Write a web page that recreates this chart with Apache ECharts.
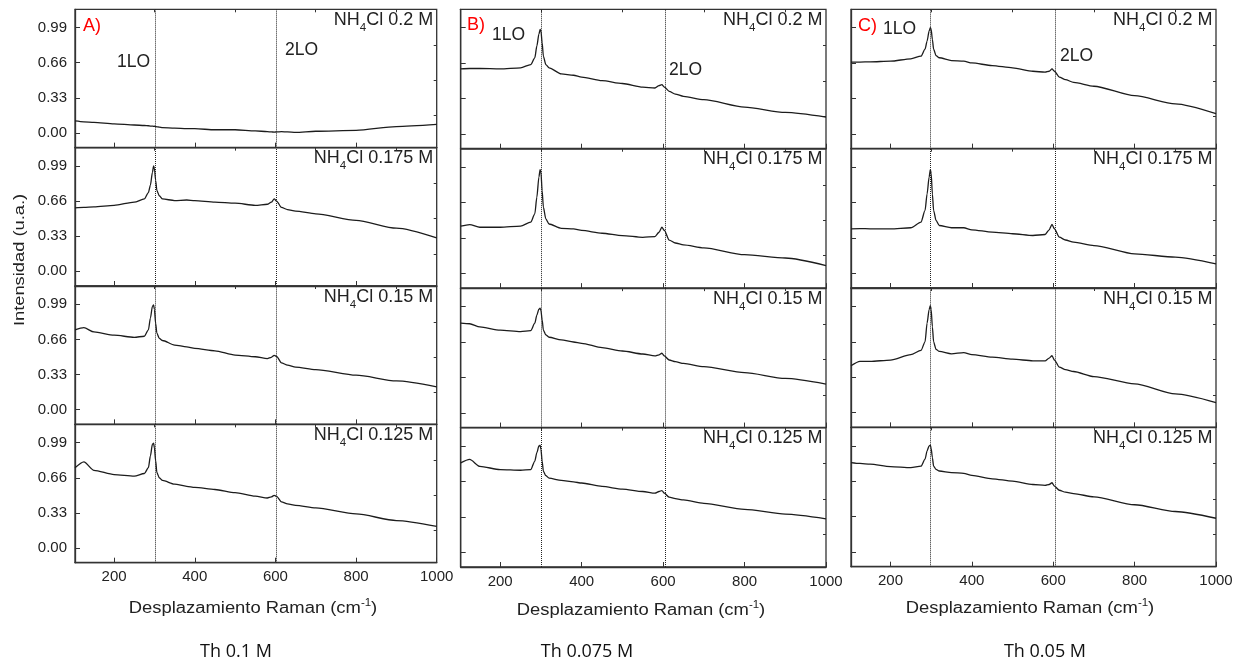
<!DOCTYPE html>
<html>
<head>
<meta charset="utf-8">
<script src="https://cdn.jsdelivr.net/npm/echarts@6/dist/echarts.min.js"></script>
<style>
html, body { margin: 0; padding: 0; background: #fff; }
#chart { width: 1251px; height: 666px; }
</style>
</head>
<body>
<div id="chart"></div>
<script>
// Raman shift (cm-1) sampled for every spectrum
const ramanShift = [103, 125, 150, 200, 250, 275, 285, 290, 295, 298, 300, 303, 306, 312, 320, 350, 380, 400, 450, 500, 550, 580, 590, 597, 603, 615, 630, 650, 700, 800, 900, 1000];

// A) Th 0.1 M
const th01_nh0200 = [0.113, 0.105, 0.10, 0.085, 0.075, 0.07, 0.068, 0.065, 0.065, 0.062, 0.063, 0.06, 0.058, 0.055, 0.05, 0.045, 0.04, 0.04, 0.03, 0.03, 0.02, 0.012, 0.01, 0.008, 0.01, 0.012, 0.01, 0.005, 0.016, 0.025, 0.06, 0.08];
const th01_nh0175 = [0.597, 0.6, 0.605, 0.62, 0.65, 0.68, 0.74, 0.81, 0.93, 0.99, 0.965, 0.855, 0.76, 0.71, 0.68, 0.665, 0.67, 0.665, 0.65, 0.64, 0.62, 0.63, 0.65, 0.68, 0.66, 0.60, 0.58, 0.566, 0.54, 0.478, 0.405, 0.314];
const th01_nh0150 = [0.75, 0.77, 0.73, 0.70, 0.68, 0.69, 0.75, 0.86, 0.97, 0.985, 0.94, 0.81, 0.72, 0.67, 0.65, 0.607, 0.59, 0.575, 0.553, 0.513, 0.497, 0.48, 0.492, 0.51, 0.5, 0.44, 0.418, 0.40, 0.377, 0.324, 0.27, 0.214];
const th01_nh0125 = [0.755, 0.81, 0.73, 0.69, 0.676, 0.70, 0.755, 0.865, 0.975, 0.985, 0.94, 0.82, 0.71, 0.66, 0.635, 0.60, 0.58, 0.57, 0.55, 0.52, 0.487, 0.47, 0.48, 0.495, 0.485, 0.434, 0.415, 0.40, 0.377, 0.32, 0.258, 0.204];

// B) Th 0.075 M
const th0075_nh0200 = [0.606, 0.61, 0.61, 0.606, 0.616, 0.647, 0.71, 0.82, 0.93, 0.975, 0.96, 0.85, 0.725, 0.647, 0.616, 0.56, 0.547, 0.53, 0.497, 0.47, 0.437, 0.428, 0.45, 0.46, 0.437, 0.397, 0.372, 0.35, 0.319, 0.25, 0.2, 0.156];
const th0075_nh0175 = [0.44, 0.455, 0.43, 0.43, 0.44, 0.477, 0.555, 0.71, 0.897, 0.966, 0.944, 0.77, 0.617, 0.508, 0.46, 0.42, 0.414, 0.4, 0.374, 0.352, 0.336, 0.343, 0.383, 0.43, 0.4, 0.31, 0.283, 0.265, 0.237, 0.174, 0.143, 0.072];
const th0075_nh0150 = [0.835, 0.83, 0.80, 0.77, 0.757, 0.766, 0.835, 0.91, 0.966, 0.975, 0.953, 0.866, 0.77, 0.726, 0.704, 0.68, 0.66, 0.648, 0.607, 0.576, 0.548, 0.53, 0.54, 0.555, 0.53, 0.492, 0.477, 0.46, 0.43, 0.374, 0.32, 0.268];
const th0075_nh0125 = [0.833, 0.865, 0.80, 0.77, 0.764, 0.77, 0.85, 0.928, 0.99, 0.997, 0.96, 0.85, 0.755, 0.714, 0.69, 0.67, 0.655, 0.645, 0.613, 0.588, 0.566, 0.55, 0.566, 0.575, 0.55, 0.513, 0.5, 0.487, 0.456, 0.4, 0.355, 0.311];

// C) Th 0.05 M
const th005_nh0200 = [0.669, 0.67, 0.672, 0.678, 0.70, 0.725, 0.79, 0.866, 0.96, 0.99, 0.975, 0.88, 0.79, 0.73, 0.71, 0.684, 0.678, 0.662, 0.637, 0.616, 0.584, 0.575, 0.584, 0.606, 0.584, 0.53, 0.506, 0.48, 0.444, 0.356, 0.28, 0.188];
const th005_nh0175 = [0.414, 0.416, 0.414, 0.414, 0.424, 0.477, 0.586, 0.74, 0.897, 0.966, 0.93, 0.74, 0.586, 0.492, 0.445, 0.424, 0.424, 0.405, 0.383, 0.368, 0.352, 0.361, 0.405, 0.455, 0.414, 0.336, 0.31, 0.29, 0.258, 0.18, 0.15, 0.087];
const th005_nh0150 = [0.436, 0.477, 0.477, 0.49, 0.54, 0.58, 0.66, 0.835, 0.96, 0.997, 0.96, 0.80, 0.66, 0.59, 0.57, 0.548, 0.56, 0.54, 0.517, 0.498, 0.483, 0.483, 0.508, 0.53, 0.49, 0.424, 0.4, 0.383, 0.336, 0.268, 0.174, 0.093];
const th005_nh0125 = [0.833, 0.825, 0.818, 0.796, 0.786, 0.80, 0.865, 0.943, 0.99, 0.997, 0.965, 0.88, 0.80, 0.77, 0.755, 0.74, 0.733, 0.714, 0.682, 0.66, 0.629, 0.62, 0.629, 0.645, 0.613, 0.575, 0.557, 0.544, 0.513, 0.44, 0.377, 0.314];

const xMajor = [200, 400, 600, 800, 1000];
const xMinor = [300, 500, 700, 900];
const yMajor = [0, 0.33, 0.66, 0.99];
const yMinor = [0.165, 0.495, 0.825];
const nhConc = ['0.2', '0.175', '0.15', '0.125'];
const thConc = ['Th 0.1 M', 'Th 0.075 M', 'Th 0.05 M'];
const panelTags = ['A)', 'B)', 'C)'];
const loPeaks = [[303, 603], [300, 606], [298, 605]];

const panelSeries = [
    [th01_nh0200, th01_nh0175, th01_nh0150, th01_nh0125],
    [th0075_nh0200, th0075_nh0175, th0075_nh0150, th0075_nh0125],
    [th005_nh0200, th005_nh0175, th005_nh0150, th005_nh0125]
];

// pixel boxes of the three panels
const layout = [
    { left: 75, right: 436.7, top: 9.3, bottom: 562.7, tagX: 83, tagY: 26.5, lo1: [117, 62.5], lo2: [285, 50.5], titleX: 253, titleY: 608.5, thX: 236 },
    { left: 460.7, right: 826, top: 9.3, bottom: 567, tagX: 467, tagY: 25.5, lo1: [492, 35.5], lo2: [669, 70.5], titleX: 641, titleY: 611, thX: 587 },
    { left: 851, right: 1216, top: 9.3, bottom: 566.7, tagX: 858, tagY: 26.5, lo1: [883, 29], lo2: [1060, 56.5], titleX: 1030, titleY: 609, thX: 1045 }
];

const INK = '#222';
const FRAME = '#333';
const FONT = 'Liberation Sans';

const ctx = document.createElement('canvas').getContext('2d');
function measure(str, size, family) {
    ctx.font = size + 'px "' + family + '"';
    return ctx.measureText(str).width;
}

const grids = [], xAxes = [], yAxes = [], series = [], graphics = [];

panelSeries.forEach((rows, p) => {
    const L = layout[p];
    const h = (L.bottom - L.top) / 4;
    rows.forEach((vals, r) => {
        const gi = p * 4 + r;
        const top = L.top + r * h;
        grids.push({
            left: L.left, top: top, width: L.right - L.left, height: h,
            show: true, borderColor: FRAME, borderWidth: 1.3, backgroundColor: 'transparent',
            outerBoundsMode: 'none'
        });
        xAxes.push({
            type: 'value', gridIndex: gi, min: 103, max: 1000,
            axisLine: { show: true, onZero: false, lineStyle: { color: FRAME, width: 1.3 } },
            axisTick: { show: true, inside: true, length: 5, customValues: xMajor, lineStyle: { color: FRAME } },
            axisLabel: {
                show: r === 3, customValues: xMajor, color: INK, fontSize: 15, fontFamily: FONT, margin: 7,
                formatter: v => String(v)
            },
            splitLine: { show: false }
        });
        xAxes.push({
            type: 'value', gridIndex: gi, min: 103, max: 1000,
            axisLine: { show: false, onZero: false },
            axisTick: { show: true, inside: true, length: 3, customValues: xMinor, lineStyle: { color: FRAME } },
            axisLabel: { show: false },
            splitLine: { show: false }
        });
        yAxes.push({
            type: 'value', gridIndex: gi, min: -0.138, max: 1.162,
            axisLine: { show: true, onZero: false, lineStyle: { color: FRAME, width: 1.3 } },
            axisTick: { show: true, inside: true, length: 5, customValues: yMajor, lineStyle: { color: FRAME } },
            axisLabel: {
                show: p === 0, customValues: yMajor, color: INK, fontSize: 15, fontFamily: FONT, margin: 8,
                formatter: v => v.toFixed(2)
            },
            splitLine: { show: false }
        });
        yAxes.push({
            type: 'value', gridIndex: gi, min: -0.138, max: 1.162,
            axisLine: { show: false, onZero: false },
            axisTick: { show: true, inside: true, length: 3, customValues: yMinor, lineStyle: { color: FRAME } },
            axisLabel: { show: false },
            splitLine: { show: false }
        });
        series.push({
            type: 'line',
            xAxisIndex: 2 * gi, yAxisIndex: 2 * gi,
            data: ramanShift.map((x, k) => [x, vals[k]]),
            showSymbol: false, symbol: 'none',
            smooth: 0.25, smoothMonotone: 'x',
            lineStyle: { color: '#1c1c1c', width: 1.3 },
            silent: true,
            markLine: {
                silent: true, symbol: ['none', 'none'], label: { show: false },
                lineStyle: { type: 'dotted', color: INK, width: 1 },
                data: loPeaks[p].map(v => ({ xAxis: v }))
            }
        });

        // NH4Cl label with subscript, right aligned
        const xr = L.right - 3.5;
        const rest = 'Cl ' + nhConc[r] + ' M';
        const w1 = measure(rest, 18, FONT);
        const w2 = measure('4', 11.5, FONT);
        graphics.push({ type: 'text', x: xr, y: top + 10.8, style: { text: rest, fill: INK, font: '18px "' + FONT + '"', align: 'right', verticalAlign: 'middle' } });
        graphics.push({ type: 'text', x: xr - w1, y: top + 18.5, style: { text: '4', fill: INK, font: '11.5px "' + FONT + '"', align: 'right', verticalAlign: 'middle' } });
        graphics.push({ type: 'text', x: xr - w1 - w2, y: top + 10.8, style: { text: 'NH', fill: INK, font: '18px "' + FONT + '"', align: 'right', verticalAlign: 'middle' } });
    });

    graphics.push({ type: 'text', x: L.tagX, y: L.tagY, style: { text: panelTags[p], fill: '#ff0000', font: '18px "' + FONT + '"', align: 'left', verticalAlign: 'middle' } });
    graphics.push({ type: 'text', x: L.lo1[0], y: L.lo1[1], style: { text: '1LO', fill: INK, font: '17.5px "' + FONT + '"', align: 'left', verticalAlign: 'middle' } });
    graphics.push({ type: 'text', x: L.lo2[0], y: L.lo2[1], style: { text: '2LO', fill: INK, font: '17.5px "' + FONT + '"', align: 'left', verticalAlign: 'middle' } });

    // x axis title with superscript, stretched like the source figure
    const a = 'Desplazamiento Raman (cm', s = '-1', c = ')';
    const wa = measure(a, 16, FONT), ws = measure(s, 10, FONT), wc = measure(c, 16, FONT);
    const x0 = -(wa + ws + wc) / 2;
    graphics.push({
        type: 'group', x: L.titleX, y: L.titleY, scaleX: 1.15,
        children: [
            { type: 'text', x: x0, y: 0, style: { text: a, fill: INK, font: '16px "' + FONT + '"', align: 'left', verticalAlign: 'middle' } },
            { type: 'text', x: x0 + wa, y: -5.5, style: { text: s, fill: INK, font: '10px "' + FONT + '"', align: 'left', verticalAlign: 'middle' } },
            { type: 'text', x: x0 + wa + ws, y: 0, style: { text: c, fill: INK, font: '16px "' + FONT + '"', align: 'left', verticalAlign: 'middle' } }
        ]
    });

    graphics.push({ type: 'text', x: L.thX, y: 652, style: { text: thConc[p], fill: '#111', font: '18px "Open Sans"', align: 'center', verticalAlign: 'middle' } });
});

graphics.push({
    type: 'text', x: 19.5, y: 260, rotation: Math.PI / 2, scaleX: 1.22,
    style: { text: 'Intensidad (u.a.)', fill: INK, font: '15px "' + FONT + '"', align: 'center', verticalAlign: 'middle' }
});

const chart = echarts.init(document.getElementById('chart'));
chart.setOption({
    animation: false,
    backgroundColor: '#fff',
    grid: grids,
    xAxis: xAxes,
    yAxis: yAxes,
    series: series,
    graphic: graphics
});
</script>
</body>
</html>
